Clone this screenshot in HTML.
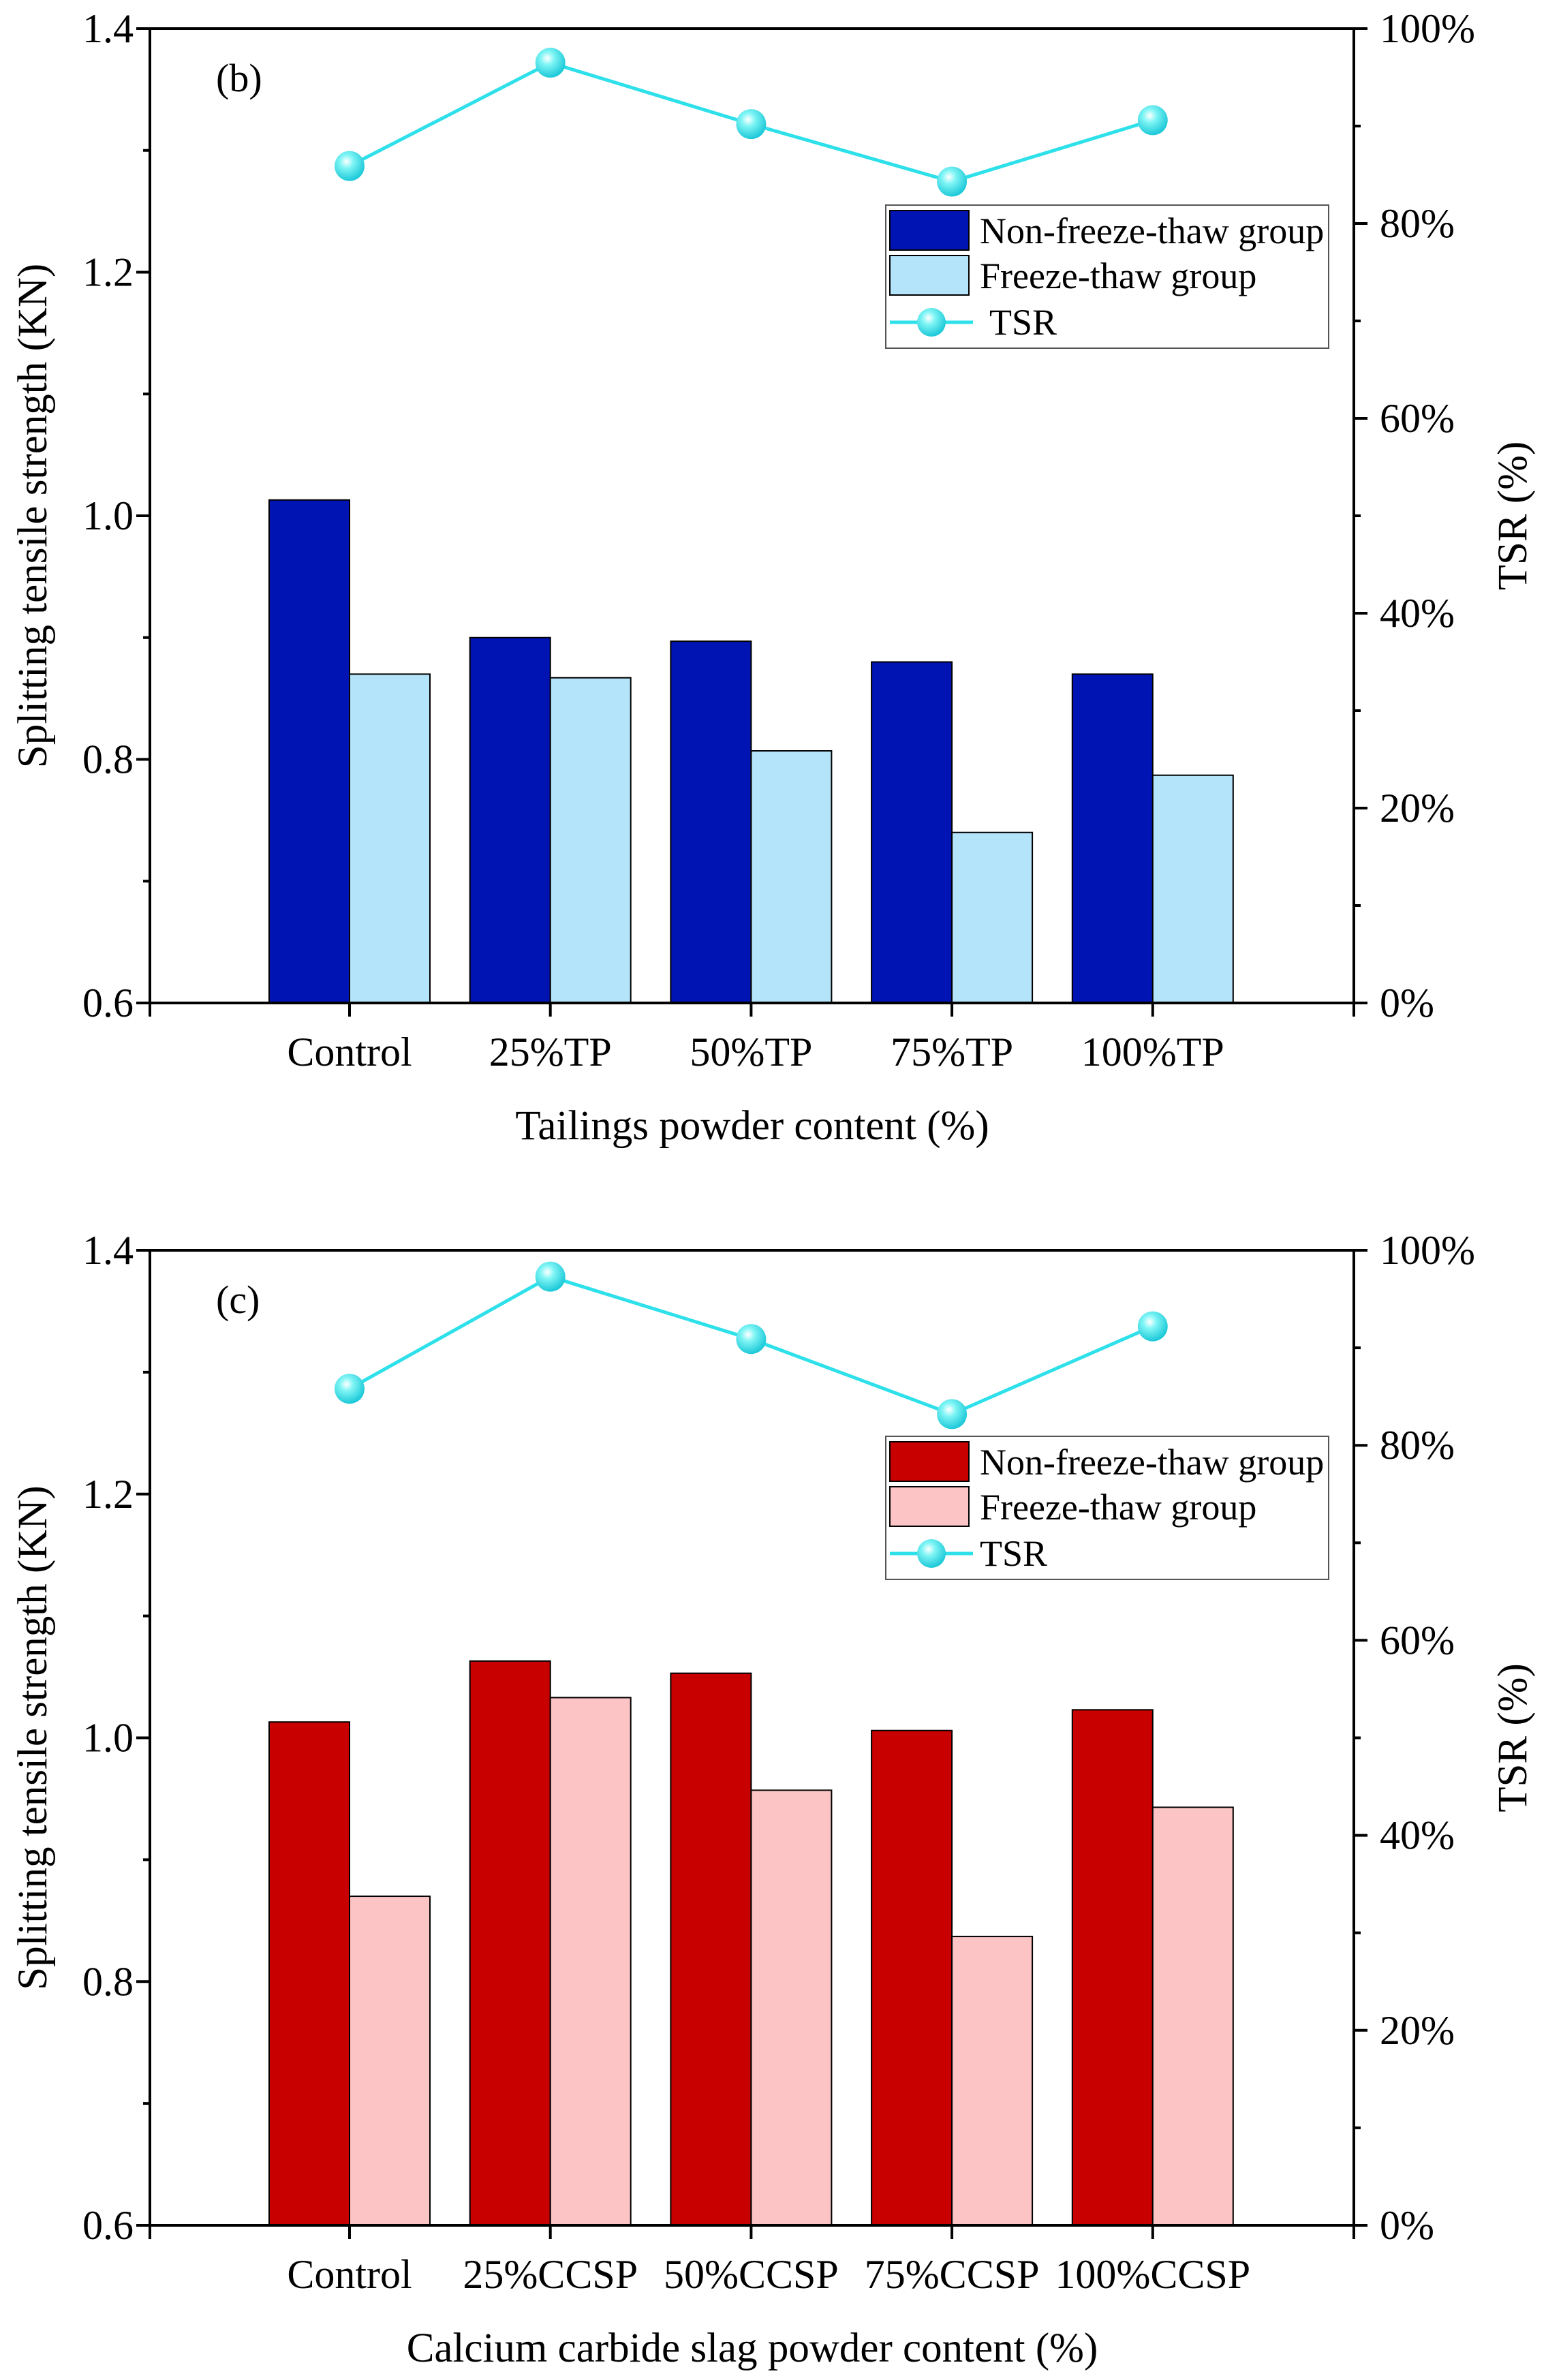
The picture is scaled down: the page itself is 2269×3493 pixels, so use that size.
<!DOCTYPE html>
<html><head><meta charset="utf-8"><style>
body{margin:0;background:#fff}
svg{display:block}
text{font-family:"Liberation Serif",serif;fill:#000}
</style></head><body>
<svg id="svg" width="2269" height="3493" viewBox="0 0 2269 3493" xmlns="http://www.w3.org/2000/svg" font-family="Liberation Serif, serif">
<defs>
<radialGradient id="ball" cx="0.4" cy="0.35" r="0.65"><stop offset="0" stop-color="#ffffff"/><stop offset="0.35" stop-color="#7ff5f5"/><stop offset="1" stop-color="#1cc8d8"/></radialGradient>
</defs>
</svg>
<script>
const catsB = ["Control","25%TP","50%TP","75%TP","100%TP"];
const nonFtB = [1.013,0.900,0.897,0.880,0.870];
const ftB = [0.870,0.867,0.807,0.740,0.787];
const tsrB = [85.9,96.5,90.2,84.3,90.6];
const catsC = ["Control","25%CCSP","50%CCSP","75%CCSP","100%CCSP"];
const nonFtC = [1.013,1.063,1.053,1.006,1.023];
const ftC = [0.870,1.033,0.957,0.837,0.943];
const tsrC = [85.8,97.3,90.9,83.2,92.2];
const leftTicks = ["0.6","0.8","1.0","1.2","1.4"];
const rightTicks = ["0%","20%","40%","60%","80%","100%"];

const NS="http://www.w3.org/2000/svg";
const svg=document.getElementById('svg');
const FF='"Liberation Serif", serif';
function mk(tag,attrs,parent,txt){const e=document.createElementNS(NS,tag);for(const k in attrs)e.setAttribute(k,attrs[k]);if(txt!==undefined){e.textContent=txt;e.setAttribute('font-family',FF);}(parent||svg).appendChild(e);return e;}

function chart(o){
  const g=mk('g',{});
  
  
  const L=220,R=1987,T=o.top,B=o.bottom;
  const y=v=>B-(v-0.6)/(1.4-0.6)*(B-T);
  const yr=p=>B-p/100*(B-T);
  const xc=i=>513+i*294.7;
  const bw=118;
  o.cats.forEach((c,i)=>{
    const b1=mk('rect',{x:xc(i)-bw,y:y(o.a[i]),width:bw,height:B-y(o.a[i]),fill:o.c1,stroke:'#000','stroke-width':2},g);
    
    
    const b2=mk('rect',{x:xc(i),y:y(o.b[i]),width:bw,height:B-y(o.b[i]),fill:o.c2,stroke:'#000','stroke-width':2},g);
    
    
  });
  const ax=mk('g',{stroke:'#000','stroke-width':4,fill:'none'},g);
  
  
  mk('line',{x1:L,y1:T,x2:R,y2:T},ax);
  mk('line',{x1:L,y1:T,x2:L,y2:B+20},ax);
  mk('line',{x1:R,y1:T,x2:R,y2:B+20},ax);
  mk('line',{x1:L,y1:B,x2:R,y2:B},ax);
  leftTicks.forEach((t,i)=>{
    const v=parseFloat(t),yy=y(v);
    mk('line',{x1:L-20,y1:yy,x2:L,y2:yy},ax);
    if(i<leftTicks.length-1) mk('line',{x1:L-10,y1:y(v+0.1),x2:L,y2:y(v+0.1)},ax);
    const tx=mk('text',{x:L-24,y:yy+20,'text-anchor':'end','font-size':60},g,t);
    
    
  });
  rightTicks.forEach((t,i)=>{
    const p=parseFloat(t),yy=yr(p);
    mk('line',{x1:R,y1:yy,x2:R+20,y2:yy},ax);
    if(i<rightTicks.length-1) mk('line',{x1:R,y1:yr(p+10),x2:R+10,y2:yr(p+10)},ax);
    const tx=mk('text',{x:R+38,y:yy+20,'font-size':60},g,t);
    
    
  });
  o.cats.forEach((c,i)=>{
    mk('line',{x1:xc(i),y1:B,x2:xc(i),y2:B+20},ax);
    const tx=mk('text',{x:xc(i),y:B+92,'text-anchor':'middle','font-size':60},g,c);
    
    
  });
  const xt=mk('text',{x:1104,y:o.xtY,'text-anchor':'middle','font-size':61},g,o.xt);
  
  
  const yt=mk('text',{x:0,y:0,'text-anchor':'middle','font-size':61,transform:`translate(68,${(T+B)/2}) rotate(-90)`},g,'Splitting tensile strength (KN)');
  
  
  const rt=mk('text',{x:0,y:0,'text-anchor':'middle','font-size':61,transform:`translate(2240,${(T+B)/2}) rotate(-90)`},g,'TSR (%)');
  
  
  const pl=mk('text',{x:317,y:T+92,'font-size':58},g,o.label);
  
  
  const pts=o.tsr.map((p,i)=>xc(i)+','+yr(p)).join(' ');
  const ln=mk('polyline',{points:pts,fill:'none',stroke:'#2ee0ea','stroke-width':5},g);
  
  
  o.tsr.forEach((p,i)=>{
    const c=mk('circle',{cx:xc(i),cy:yr(p),r:22,fill:'url(#ball)'},g);
    
    
  });
  const lg=mk('g',{},g);
  
  
  const lx=1300,ly=o.legY;
  mk('rect',{x:lx,y:ly,width:650,height:210,fill:'#fff',stroke:'#555','stroke-width':2},lg);
  mk('rect',{x:lx+6,y:ly+8,width:116,height:58,fill:o.c1,stroke:'#000','stroke-width':2},lg);
  mk('rect',{x:lx+6,y:ly+74,width:116,height:58,fill:o.c2,stroke:'#000','stroke-width':2},lg);
  mk('line',{x1:lx+6,y1:ly+172,x2:lx+128,y2:ly+172,stroke:'#2ee0ea','stroke-width':5},lg);
  mk('circle',{cx:lx+67,cy:ly+172,r:21,fill:'url(#ball)'},lg);
  mk('text',{x:lx+138,y:ly+56,'font-size':54},lg,'Non-freeze-thaw group');
  mk('text',{x:lx+138,y:ly+122,'font-size':54},lg,'Freeze-thaw group');
  mk('text',{x:lx+138+o.tsrOff,y:ly+190,'font-size':54},lg,'TSR');
}
chart({name:'chart-b',top:42,bottom:1472,cats:catsB,a:nonFtB,b:ftB,tsr:tsrB,c1:'#0014b4',c2:'#b4e4fa',xt:'Tailings powder content (%)',xtY:1672,label:'(b)',legY:301,tsrOff:14});
chart({name:'chart-c',top:1835,bottom:3266,cats:catsC,a:nonFtC,b:ftC,tsr:tsrC,c1:'#c80000',c2:'#fcc4c4',xt:'Calcium carbide slag powder content (%)',xtY:3466,label:'(c)',legY:2108,tsrOff:0});
</script>
</body></html>
